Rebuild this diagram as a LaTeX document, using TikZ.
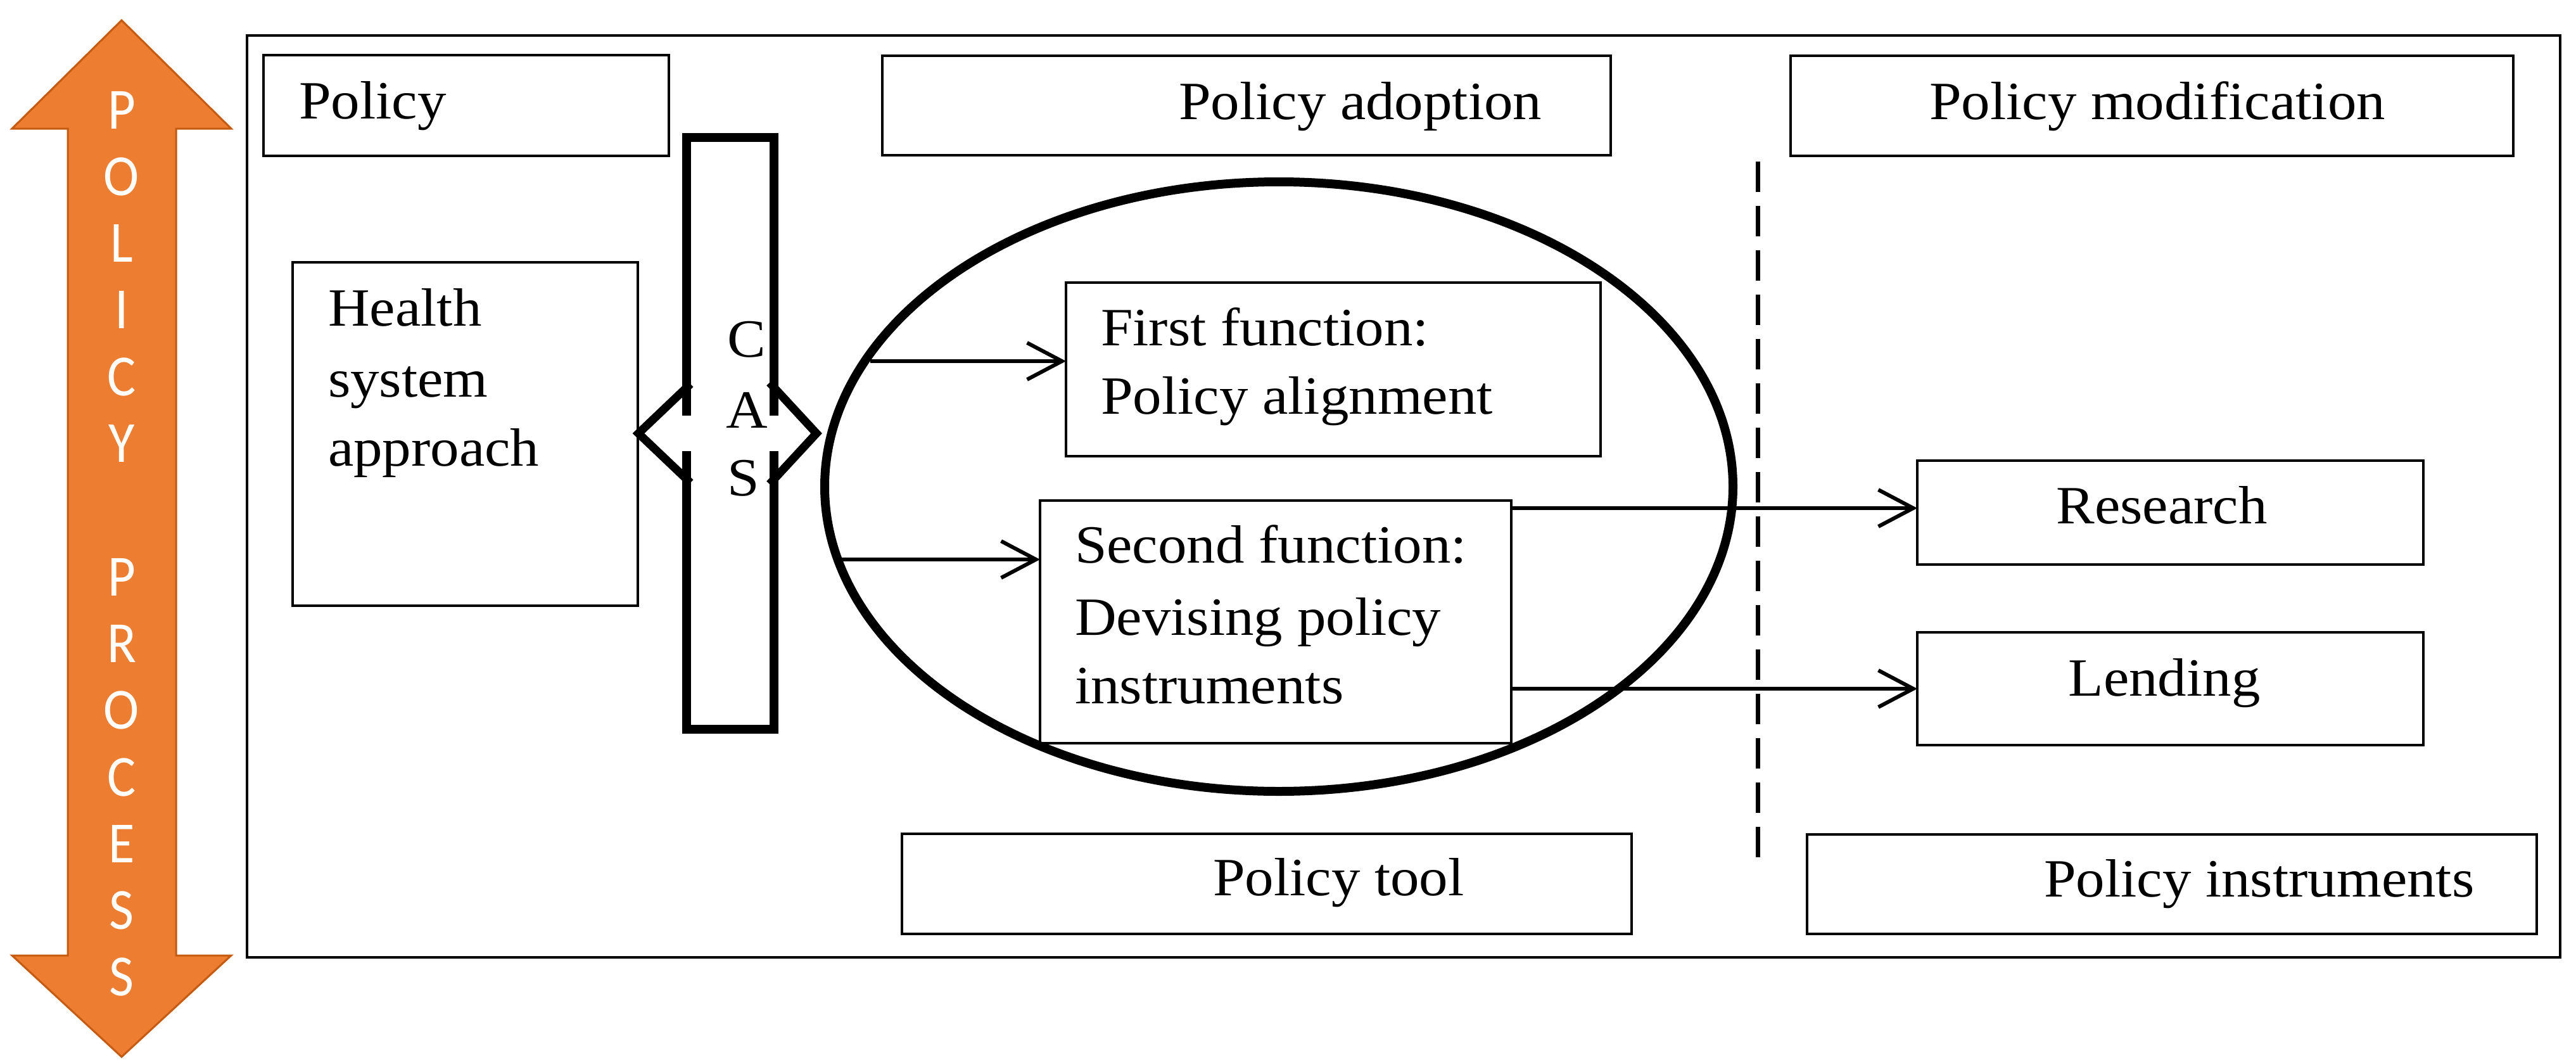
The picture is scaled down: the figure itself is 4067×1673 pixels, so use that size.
\documentclass[tikz,border=0pt]{standalone}
\usepackage{fontspec}
\setmainfont{Liberation Serif}[FakeStretch=1.07]
\newfontfamily\calfont{Carlito}[FakeStretch=0.92]
\usetikzlibrary{arrows.meta,shapes.geometric}
\definecolor{orangeA}{HTML}{ED7D31}
\definecolor{orangeB}{HTML}{C55A11}
\begin{document}
\begin{tikzpicture}[x=1pt,y=-1pt,
  box/.style={draw=black, line width=4pt, inner sep=0pt, outer sep=0pt},
  lbl/.style={inner sep=0pt, outer sep=0pt, anchor=base west, font=\fontsize{85}{110}\selectfont},
  clbl/.style={lbl, anchor=base},
  olet/.style={inner sep=0pt, outer sep=0pt, anchor=base, text=white, font=\calfont\fontsize{92}{92}\selectfont},
  arr/.style={line width=6pt, -{Straight Barb[length=55pt,width=58pt]}},
  head/.style={line width=13pt, line join=miter}]
\useasboundingbox (0,0) rectangle (4067,1673);
\fill[white] (0,0) rectangle (4067,1673);

% left orange double arrow
\path[fill=orangeA, draw=orangeB, line width=3pt, line join=miter]
  (192,32) -- (365,203) -- (278,203) -- (278,1508) -- (365,1508) -- (192,1668)
  -- (19,1508) -- (107,1508) -- (107,203) -- (19,203) -- cycle;
\foreach \ch [count=\i from 0] in {P,O,L,I,C,Y}
  \node[olet] (pp\i) at (192,{203+105.3*\i}) {\ch};
\foreach \ch [count=\i from 7] in {P,R,O,C,E,S,S}
  \node[olet] (pr\i) at (192,{203+105.3*\i}) {\ch};

% outer frame
\node[box, minimum width=3652pt, minimum height=1455pt] (frame) at (2216,783.5) {};

% boxes
\node[box, minimum width=640pt, minimum height=159pt] (policy) at (736,166.5) {};
\node[box, minimum width=1150pt, minimum height=157pt] (adoption) at (1968,166.5) {};
\node[box, minimum width=1141pt, minimum height=158pt] (modif) at (3397.5,167) {};
\node[box, minimum width=545pt, minimum height=542pt] (health) at (734.5,685) {};
\node[box, minimum width=844pt, minimum height=274pt] (first) at (2105,583) {};
\node[box, minimum width=744pt, minimum height=383pt] (second) at (2014,981.5) {};
\node[box, minimum width=799pt, minimum height=164pt] (research) at (3426.5,809) {};
\node[box, minimum width=799pt, minimum height=178pt] (lending) at (3426.5,1087) {};
\node[box, minimum width=1152pt, minimum height=158pt] (tool) at (2000,1395) {};
\node[box, minimum width=1152pt, minimum height=157pt] (instr) at (3429,1395.5) {};

% ellipse
\node[draw=black, ellipse, line width=14pt, minimum width=1434pt, minimum height=962pt, inner sep=0pt] (oval) at (2019,768) {};

% CAS bar with double arrow
\node[draw=black, line width=14pt, minimum width=138pt, minimum height=934pt, inner sep=0pt] (cas) at (1152.5,684) {};
\fill[white] (1068,656) rectangle (1237,712);
\draw[head] (1090,606) -- (1008,684) -- (1090,762);
\draw[head] (1215,604) -- (1289,684) -- (1215,764);
\node[lbl] (casC) at (1148,563) {C};
\node[lbl] (casA) at (1146,675) {A};
\node[lbl] (casS) at (1148,782) {S};

% dashed divider
\coordinate (dtop) at (2775,255);
\coordinate (dbot) at (2775,1360);
\draw[line width=7pt, dash pattern=on 48pt off 22pt] (dtop) -- (dbot);

% connectors
\coordinate (a1s) at (1374,570);
\coordinate (a2s) at (1329,883);
\coordinate (ry) at (0,802);
\draw[arr] (a1s) -- (a1s -| first.west);
\draw[arr] (a2s) -- (a2s -| second.west);
\draw[arr] (second.east |- ry) -- (research.west |- ry);
\draw[arr] (second.east |- lending.west) -- (lending.west);

% texts
\node[lbl] (tPolicy) at (472,187) {Policy};
\node[lbl] (tAdopt) at (1861,188) {Policy adoption};
\node[lbl] (tModif) at (3046,188) {Policy modification};
\node[lbl] (h1) at (518,514) {Health};
\node[lbl] (h2) at (518,626) {system};
\node[lbl] (h3) at (518,735) {approach};
\node[lbl] (f1) at (1738,545) {First function:};
\node[lbl] (f2) at (1738,653) {Policy alignment};
\node[lbl] (s1) at (1697,888) {Second function:};
\node[lbl] (s2) at (1697,1002) {Devising policy};
\node[lbl] (s3) at (1697,1110) {instruments};
\node[clbl] (tRes) at (3413,826) {Research};
\node[clbl] (tLend) at (3417,1098) {Lending};
\node[lbl] (tTool) at (1915,1413) {Policy tool};
\node[lbl] (tInstr) at (3227,1415) {Policy instruments};
\end{tikzpicture}
\end{document}
